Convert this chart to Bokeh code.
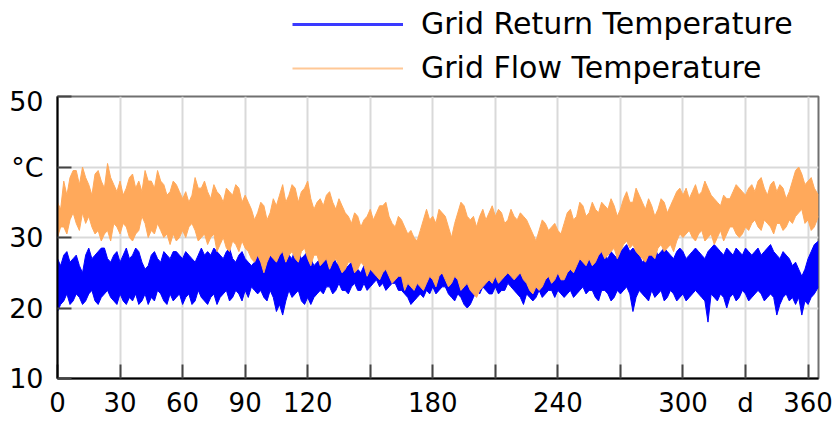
import math
from bokeh.plotting import figure
from bokeh.layouts import column
from bokeh.models import Range1d, FixedTicker, Legend, LegendItem
from bokeh.embed import file_html
from bokeh.resources import INLINE

# x positions (day of year) of the envelope samples, and the in-between readings
days = list(range(0, 364, 3)) + [365]
mid_days = [d + 1.5 for d in days[:121]]

# Grid Flow Temperature: upper / lower envelope (°C)
flow_hi = [35, 38, 38.5, 39.5, 40, 37.5, 39, 38, 40.5, 37.5,
           38, 37, 39, 38, 39.5, 38, 39.5, 37.5, 36.5, 37.5,
           35.5, 35, 38.5, 37, 36.5, 37.5, 36, 37, 36, 37,
           36, 34, 33.5, 34.5, 33.5, 34.5, 37.5, 36, 37, 36.5,
           38, 34, 35.5, 36, 35, 35.5, 33.5, 32, 33, 32.5,
           34, 33.5, 34.5, 33, 31.5, 32.5, 30.5, 30, 31, 34,
           33, 34, 33, 30, 33.5, 34.5, 32.5, 31.5, 34, 33.5,
           33, 33.5, 32.5, 33, 33.5, 32.5, 30.5, 31, 32, 31.5,
           31, 32, 34, 33, 34.5, 33.5, 34, 35, 34, 34.5,
           34, 36.5, 35, 36, 34, 34.5, 34, 35, 34.5, 36.5,
           36, 35.5, 37.5, 36.5, 37, 35.5, 34.5, 35.5, 36.5, 37,
           36, 37.5, 38, 37, 37.5, 36.5, 37, 36.5, 39.5, 39, 38, 37, 36]
flow_hi_mid = [34, 36, 39.5, 37.5, 38.5, 36, 39.5, 37, 38.5, 36.5,
               36, 38.5, 37, 36.5, 38, 37, 38, 36, 38, 36.5,
               36.5, 36, 37, 38, 35.5, 36.5, 35, 36.5, 37.5, 35,
               35, 32.5, 35, 32.5, 35.5, 36, 35, 37.5, 35, 37,
               35.5, 35, 34.5, 36.5, 34, 34.5, 33, 33.5, 31.5, 33,
               32.5, 34.5, 35, 32, 33, 31.5, 31, 29.5, 32.5, 32.5,
               32, 33.5, 31.5, 32, 35, 33, 33, 33, 32.5, 34.5,
               34, 32, 34, 32.5, 33, 31.5, 29.5, 32.5, 31, 32,
               30.5, 33.5, 32.5, 35, 33, 35, 33.5, 34.5, 35.5, 33,
               35.5, 35, 37, 35, 35.5, 33, 35.5, 33.5, 35.5, 37,
               37, 36.5, 36, 38, 36, 35, 36, 35.5, 37.5, 36.5,
               37, 36.5, 38.5, 36, 38, 37.5, 35.5, 38, 40, 37.5,
               38.5]
flow_lo = [30, 31.5, 32.5, 32, 33.5, 33, 30.5, 29.5, 31, 32,
           30.5, 31.5, 29.5, 31, 32, 31, 32, 30, 29, 29.5,
           31, 31.5, 31, 30, 29, 30.5, 29, 28.5, 29.5, 28,
           28.5, 27, 27.5, 25, 27.5, 26.5, 28, 27.5, 27, 28,
           27, 27.5, 26, 27, 26.5, 26, 25.5, 26.5, 25.5, 26,
           25.5, 24.5, 25, 24.5, 24, 24.5, 23.5, 22.5, 23, 23.5,
           24, 24.5, 24, 23.5, 24, 23, 22.5, 21.5, 23, 24,
           24.5, 24, 25, 24, 25, 23.5, 22, 22.5, 24, 23.5,
           25, 24, 25.5, 26, 26.5, 27, 26.5, 28, 27.5, 28.5,
           28, 29.5, 29, 27.5, 26.5, 27.5, 28.5, 28, 29, 29.5,
           30, 31, 29.5, 31, 30, 29, 31, 30.5, 31.5, 30,
           31.5, 32, 31.5, 32.5, 31.5, 32, 31, 32.5, 33, 34, 32.5, 31.5, 33]
flow_lo_mid = [31.5, 30.5, 33.5, 31, 32, 31.5, 31, 30.5, 29.5, 31.5,
               32, 30, 30.5, 33, 30, 30.5, 31, 30.5, 30.5, 30,
               30, 32, 29.5, 30.5, 30, 28, 30, 28, 29, 29.5,
               28, 26.5, 26.5, 26.5, 27, 27.5, 26.5, 28, 26.5, 28.5,
               26, 27.5, 26.5, 25.5, 27, 25, 26.5, 25, 26.5, 24.5,
               25, 24, 25.5, 23.5, 24.5, 22.5, 23, 23.5, 22.5, 24.5,
               23, 25, 23, 24.5, 22.5, 23.5, 22, 22.5, 23.5, 23.5,
               23.5, 24.5, 24.5, 24.5, 24, 22.5, 23, 23, 24.5, 24,
               24, 25, 25, 27, 26, 26, 27.5, 27, 28, 27,
               29, 28.5, 28, 27, 27.5, 27, 29, 28.5, 28, 30.5,
               30.5, 30, 30.5, 29.5, 30.5, 30, 29.5, 31.5, 30.5, 30.5,
               31, 32.5, 31, 32, 30.5, 32, 31.5, 32, 33.5, 32,
               31]

# Grid Return Temperature: upper / lower envelope (°C)
ret_hi = [27, 27.5, 26.5, 27.5, 25, 28.5, 27.5, 28.5, 27, 27.5,
          26.5, 28.5, 27.5, 28, 25.5, 27.5, 27, 28, 27, 28,
          27, 27.5, 26.5, 28.5, 28, 28.5, 27.5, 28, 27, 27.5,
          27, 26, 27.5, 25.5, 27.5, 28, 28.5, 27.5, 28.5, 27,
          28, 26, 27, 28, 27.5, 26, 25.5, 26.5, 25.5, 26,
          27, 26.5, 28, 27, 25.5, 25, 26, 24, 23.5, 25,
          25, 26, 26.5, 25.5, 27, 26, 27, 26.5, 27.5, 26.5,
          27, 27.5, 27, 26, 25, 25.5, 24.5, 26, 25.5, 26,
          25, 25.5, 26, 27, 28, 27.5, 27, 28, 27, 27.5,
          28, 29, 28.5, 27.5, 27, 28, 27.5, 28.5, 27.5, 28,
          28, 27.5, 28.5, 27.5, 28, 29, 28, 28.5, 27.5, 28,
          28.5, 27.5, 28.5, 28, 29, 27.5, 28, 27, 26.5, 24.5, 27, 29, 29.5]
ret_hi_mid = [26, 28, 27, 26, 27.5, 27, 28, 28.5, 26.5, 28,
              27.5, 27, 28.5, 26.5, 26, 28, 26.5, 27.5, 28, 27.5,
              28, 27, 27.5, 27.5, 27.5, 28, 27, 28.5, 26.5, 28,
              26.5, 26.5, 26.5, 27, 27, 27.5, 28, 27, 28, 27.5,
              27, 26.5, 27.5, 27, 26.5, 26.5, 26, 26, 25, 26.5,
              26, 27, 27.5, 26.5, 26, 25.5, 25, 24.5, 24.5, 24.5,
              25.5, 25.5, 26, 26.5, 26.5, 26.5, 26, 27, 27, 27.5,
              26.5, 27.5, 26.5, 25.5, 24.5, 25, 25.5, 25, 26.5, 25.5,
              24.5, 26, 26.5, 27.5, 27, 28, 27.5, 27.5, 28, 27,
              28.5, 28, 28, 26.5, 27.5, 28.5, 28, 28, 27, 28.5,
              27, 28, 28, 27, 28.5, 28.5, 27.5, 28, 28.5, 27.5,
              28, 28, 27.5, 28.5, 28, 27, 27.5, 26, 25.5, 25.5,
              28]
ret_lo = [19.5, 21, 20.5, 22, 20.5, 22, 21, 21.5, 22.5, 21,
          22, 20.5, 21, 20.5, 22, 21.5, 22.5, 21, 22, 21.5,
          20.5, 22, 21, 21.5, 20.5, 22, 21.5, 22.5, 21.5, 22,
          22.5, 23, 22, 21.5, 22.5, 19.5, 19, 22.5, 22, 21,
          21.5, 21.5, 22.5, 23, 22, 23.5, 22.5, 23, 22.5, 23.5,
          23, 24, 23.5, 23, 23.5, 22.5, 21.5, 21, 22, 22.5,
          23, 22.5, 23, 21.5, 22, 20.5, 20.5, 22.5, 23, 22,
          23, 22.5, 23.5, 22.5, 21.5, 22, 21, 22.5, 22, 22.5,
          22.5, 21.5, 22.5, 22, 23, 22.5, 21.5, 22.5, 22, 21.5,
          22, 23, 19.5, 22.5, 21.5, 22.5, 22, 21, 22.5, 21,
          22, 21.5, 22.5, 21.5, 18, 21.5, 22, 20, 22, 21.5,
          22, 21.5, 22.5, 21, 22, 19, 21.5, 21, 20.5, 19, 20.5, 22, 23]
ret_lo_mid = [20.5, 22, 21, 21.5, 21, 22.5, 20.5, 22, 21.5, 20.5,
              21, 21.5, 22, 21, 20.5, 21, 22, 20.5, 21, 22,
              21.5, 20.5, 22.5, 21, 21.5, 20.5, 22, 21, 22.5, 21,
              21.5, 22.5, 22.5, 21, 21.5, 20.5, 21, 21.5, 22.5, 20.5,
              20.5, 22, 22, 23, 22.5, 22.5, 22, 23.5, 22.5, 22.5,
              23.5, 23, 22.5, 23.5, 22.5, 22, 20.5, 21.5, 21.5, 22,
              22, 23, 22, 21, 21.5, 20, 21.5, 22, 22.5, 22,
              22, 22.5, 23, 22, 20.5, 21.5, 21.5, 21.5, 22.5, 21.5,
              22, 22, 21.5, 22.5, 22, 22.5, 21, 22.5, 21, 22.5,
              22.5, 22, 21.5, 22, 21, 21.5, 22.5, 21.5, 22, 21.5,
              21, 22, 22, 21, 22, 21, 21.5, 21.5, 21, 22.5,
              21, 22, 22, 21.5, 21.5, 20.5, 22, 21.5, 21.5, 21,
              21.5]

x_ticks = [0, 30, 60, 90, 120, 150, 180, 210, 240, 270, 300, 330, 360]
x_labels = {150: "", 210: "", 270: "", 330: "d"}
y_ticks = [10, 20, 30, 40, 50]
y_labels = {40: "°C"}

BLUE = "#0000ff"
ORANGE = "#ffa95b"
FONT = "DejaVu Sans"
W = 835


def merged(main_vals, mid_vals):
    """Interleave the readings at the 3-day points with the in-between readings."""
    pts = list(zip(days, main_vals)) + list(zip(mid_days, mid_vals))
    pts.sort(key=lambda t: t[0])
    return [t[0] for t in pts], [t[1] for t in pts]


fx, fhi = merged(flow_hi, flow_hi_mid)
_, flo = merged(flow_lo, flow_lo_mid)
rx, rhi = merged(ret_hi, ret_hi_mid)
_, rlo = merged(ret_lo, ret_lo_mid)

# ---- legend strip (sits above the plot; frame aligned with the plot below) ----
lg = figure(width=W, height=85, output_backend="svg", toolbar_location=None,
            x_range=Range1d(0, 1), y_range=Range1d(0, 1),
            x_axis_location=None, y_axis_location=None,
            min_border=0, outline_line_color=None)
lg.grid.visible = False
r_ret = lg.line([math.nan], [math.nan], line_color="#3a3aff", line_width=3)
r_flow = lg.line([math.nan], [math.nan], line_color="#ffc896", line_width=2)
legend = Legend(items=[LegendItem(label="Grid Return Temperature", renderers=[r_ret]),
                       LegendItem(label="Grid Flow Temperature", renderers=[r_flow])],
                location=(235, 0), orientation="vertical",
                label_text_font=FONT, label_text_font_size="30px",
                label_text_color="#000000",
                glyph_width=111, glyph_height=20, label_standoff=18,
                spacing=9, padding=0, margin=0,
                border_line_color=None, background_fill_color=None)
lg.add_layout(legend, "center")

# ---- main plot ----
p = figure(width=W, height=335, output_backend="svg", toolbar_location=None,
           x_range=Range1d(0, 365), y_range=Range1d(10, 50),
           min_border_left=57, min_border_right=17, min_border_top=11,
           min_border_bottom=0)

# Return temperature band
p.varea(x=rx, y1=rlo, y2=rhi, fill_color=BLUE)
p.line(rx, rhi, line_color=BLUE, line_width=1)
p.line(rx, rlo, line_color=BLUE, line_width=1)
# Flow temperature band (drawn on top)
p.varea(x=fx, y1=flo, y2=fhi, fill_color=ORANGE)
p.line(fx, fhi, line_color=ORANGE, line_width=1)
p.line(fx, flo, line_color=ORANGE, line_width=1)

for ax, tk, lab in ((p.xaxis, x_ticks, x_labels), (p.yaxis, y_ticks, y_labels)):
    ax.ticker = FixedTicker(ticks=tk)
    ax.major_label_overrides = lab
    ax.major_label_text_font = FONT
    ax.major_label_text_color = "#000000"
    ax.axis_line_color = "#000000"
    ax.axis_line_width = 2
    ax.major_tick_in = 14
    ax.major_tick_out = 0
    ax.major_tick_line_color = "#444444"
    ax.major_tick_line_width = 2
    ax.minor_tick_line_color = None
p.xaxis.major_label_text_font_size = "26px"
p.yaxis.major_label_text_font_size = "27px"
p.xaxis.major_label_standoff = 9
p.yaxis.major_label_standoff = 14

p.xgrid.ticker = FixedTicker(ticks=x_ticks)
p.ygrid.ticker = FixedTicker(ticks=y_ticks)
p.grid.grid_line_color = "#d9d9d9"
p.grid.grid_line_width = 2
p.outline_line_color = "#707070"
p.outline_line_width = 2
p.background_fill_color = "white"
p.border_fill_color = "white"

layout = column(lg, p, spacing=0)
open("out.html", "w").write(file_html(layout, INLINE))
